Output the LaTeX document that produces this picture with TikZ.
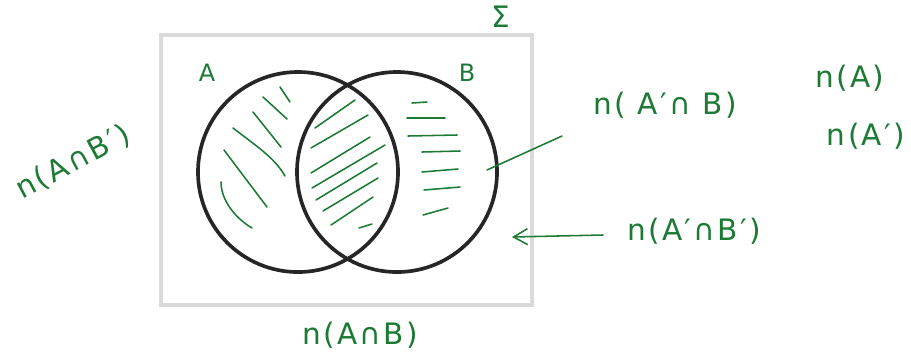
\documentclass[tikz,border=0pt]{standalone}
\usepackage{fontspec}
\setmainfont{DejaVu Sans}
\newfontfamily\handfont[LetterSpace=8]{DejaVu Sans}
\usepackage{tikz}
\usetikzlibrary{arrows.meta}

\definecolor{pengreen}{RGB}{28,122,52}
\definecolor{framegray}{RGB}{218,218,218}

\begin{document}
\begin{tikzpicture}[x=0.025cm, y=-0.025cm,
                label/.style={text=pengreen, inner sep=0pt, font=\handfont\fontsize{21}{24}\selectfont},
                setcircle/.style={circle, draw=black!85, line width=2.6pt, minimum size=5cm, inner sep=0pt},
                hatch/.style={draw=pengreen, line width=1.1pt, line cap=round},
                paths/.style={draw=pengreen, line width=1.1pt, line cap=round}
            ]
                \useasboundingbox (0,0) rectangle (911,351);

                % Universal set
                \draw[framegray, line width=3pt] (161,35) rectangle (532,305);
                \node[label, font=\fontsize{21}{24}\selectfont] (univ) at (501,17) {Σ};

                % Sets
                \node[setcircle] (setA) at (298,172) {};
                \node[setcircle] (setB) at (397,172) {};
                \node[label, font=\fontsize{17}{19}\selectfont] (labA) at (207,73) {A};
                \node[label, font=\fontsize{17}{19}\selectfont] (labB) at (467,73) {B};

                % Hatching: A only
                \foreach \xa/\ya/\xb/\yb in {280/87/290/102, 263/97/287/119, 253/112/281/147,
                                             224/150/267/207}
                    \draw[hatch] (\xa,\ya) -- (\xb,\yb);
                \draw[hatch] (233,128) .. controls (255,145) and (275,158) .. (285,176);
                \draw[hatch] (221,182) .. controls (221,200) and (235,218) .. (252,228);

                % Hatching: A and B
                \foreach \xa/\ya/\xb/\yb in {315/128/355/100, 311/148/368/115, 311/173/370/137,
                                             312/188/385/145, 316/200/377/163, 323/211/378/178,
                                             331/225/373/197, 359/228/372/224}
                    \draw[hatch] (\xa,\ya) -- (\xb,\yb);

                % Hatching: B only
                \foreach \xa/\ya/\xb/\yb in {412/103/427/102, 407/118/445/118, 408/136/457/135,
                                             422/152/460/151, 422/172/458/169, 424/190/460/187,
                                             423/215/448/208}
                    \draw[hatch] (\xa,\ya) -- (\xb,\yb);

                % Labels
                \node[label] (nAB) at (360,335) {n(A∩B)};
                \node[label, rotate=28] (nABc) at (73,162) {n(A∩B′)};
                \node[label] (nAcB) at (665,105) {n( A′∩ B)};
                \node[label] (nAcBc) at (694,231) {n(A′∩B′)};
                \node[label] (nA) at (850,78) {n(A)};
                \node[label] (nAc) at (866,136) {n(A′)};

                % Pointers
                \coordinate (ptB) at (487,170);
                \coordinate (ptBend) at (562,136);
                \coordinate (ptOut) at (512,237);
                \coordinate (ptOutstart) at (603,235);
                \draw[paths] (ptB) -- (ptBend);
                \draw[paths, -{Straight Barb[length=3.5mm, width=4mm]}] (ptOutstart) -- (ptOut);
            \end{tikzpicture}
\end{document}
